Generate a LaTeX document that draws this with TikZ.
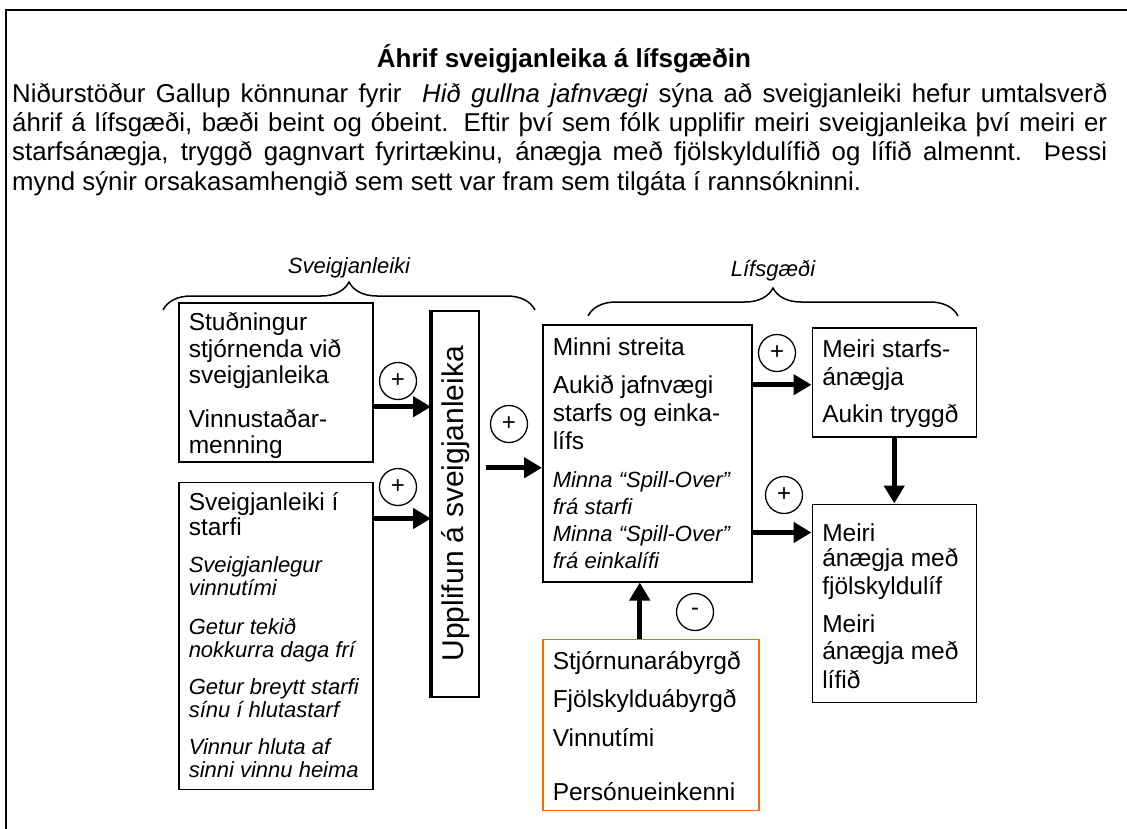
\documentclass[tikz,border=0pt]{standalone}
\usepackage{fontspec}
\setmainfont{Liberation Sans}
\usetikzlibrary{positioning,arrows.meta,decorations.pathreplacing}
\definecolor{boxorange}{RGB}{255,102,0}
\newcommand{\boxtext}[4][10pt]{\parbox[c][#3][t]{#2}{\vspace*{#1}\leftskip=10pt\rightskip=0pt plus 1fil\relax #4}}
\newcommand{\fineprint}[1]{{\fontsize{22}{26.5}\selectfont\itshape #1}}

\begin{document}
\begin{tikzpicture}[x=1pt, y=-1pt,
  factor/.style={draw, line width=1.5pt, inner sep=0pt, anchor=north west, font=\fontsize{24.5}{26.5}\selectfont},
  sign/.style={circle, draw, line width=1.3pt, minimum size=37pt, inner sep=0pt, font=\fontsize{24}{24}\selectfont},
  flow/.style={line width=5pt, -{Triangle[length=18pt, width=20pt]}},
  brace/.style={decorate, decoration={brace, amplitude=28pt}, line width=1.5pt},
  bracetitle/.style={anchor=base, font=\fontsize{22}{22}\selectfont\itshape}]

\useasboundingbox (0,0) rectangle (1127,829);
\draw[line width=2pt] (6,829) -- (6,10) -- (1127,10);

% HEADING

\node[anchor=base, font=\fontsize{26}{30}\selectfont\bfseries] (title) at (564,68) {Áhrif sveigjanleika á lífsgæðin};

\node[anchor=north west, text width=1095pt, inner sep=0pt, align=justify, font=\fontsize{25.8}{29.3}\selectfont] (intro) at (12,83)
{\hyphenpenalty=10000 Niðurstöður Gallup könnunar fyrir\ \ \textit{Hið gullna jafnvægi} sýna að sveigjanleiki hefur umtalsverð\linebreak
áhrif á lífsgæði, bæði beint og óbeint. Eftir því sem fólk upplifir meiri sveigjanleika því meiri er\linebreak
starfsánægja, tryggð gagnvart fyrirtækinu, ánægja með fjölskyldulífið og lífið almennt. Þessi\linebreak
mynd sýnir orsakasamhengið sem sett var fram sem tilgáta í rannsókninni.};

% BOXES

\node[factor] (support) at (178,302)
{\boxtext{194pt}{159pt}{Stuðningur\\stjórnenda við\\sveigjanleika\\[17pt]Vinnustaðar-\\menning}};

\node[factor, below=19pt of support.south west, anchor=north west] (flexwork)
{\boxtext{194pt}{307pt}{Sveigjanleiki í\\[-1.5pt]starfi\\[10.5pt]%
\fineprint{Sveigjanlegur\\[-3.5pt]vinnutími}\\[12.5pt]%
\fineprint{Getur tekið\\[-3.5pt]nokkurra daga frí}\\[10.5pt]%
\fineprint{Getur breytt starfi\\[-3.5pt]sínu í hlutastarf}\\[10.5pt]%
\fineprint{Vinnur hluta af\\[-3.5pt]sinni vinnu heima}}};

\node[draw, line width=1.5pt, inner sep=0pt, anchor=north west, minimum width=47pt, minimum height=386pt] (perceived) at (431,310)
{\rotatebox{90}{\fontsize{30}{30}\selectfont Upplifun á sveigjanleika}};
\draw[line width=4pt] (perceived.north west) -- (perceived.south west);

\node[factor] (strain) at (542,324)
{\boxtext[13pt]{209pt}{257pt}{Minni streita\\[11.5pt]Aukið jafnvægi\\[1.5pt]starfs og einka-\\[1.5pt]lífs\\[11.5pt]%
\fineprint{Minna “Spill-Over”\\[0.5pt]frá starfi\\[0.5pt]Minna “Spill-Over”\\frá einkalífi}}};

\node[factor, right=59pt of strain.north east, anchor=north west, yshift=-3pt] (jobsat)
{\boxtext[12pt]{164pt}{109pt}{Meiri starfs-\\[1.5pt]ánægja\\[10.5pt]Aukin tryggð}};

\node[factor, below=66pt of jobsat.south west, anchor=north west] (lifesat)
{\boxtext[19pt]{164pt}{198pt}{Meiri\\[-1.5pt]ánægja með\\[1.5pt]fjölskyldulíf\\[11.5pt]Meiri\\[0.5pt]ánægja með\\[2.5pt]lífið}};

\node[factor, draw=boxorange, below=56pt of strain.south west, anchor=north west] (burden)
{\boxtext[12pt]{216pt}{171pt}{Stjórnunarábyrgð\\[11.5pt]Fjölskylduábyrgð\\[12.5pt]Vinnutími\\[27.5pt]Persónueinkenni}};

% BRACES

\draw[brace] (163,310) -- (535,310);
\node[bracetitle] (flextitle) at (349,273) {Sveigjanleiki};
\draw[brace] (588,316) -- (958,316);
\node[bracetitle] (lifetitle) at (773,276) {Lífsgæði};

% ARROWS

\coordinate (supportout) at ([yshift=-24.5pt]support.east);
\draw[flow] (supportout) -- (supportout -| perceived.west);

\coordinate (flexout) at ([yshift=-37pt]flexwork.north east);
\draw[flow] (flexout) -- (flexout -| perceived.west);

\coordinate (strainin) at ([yshift=-14.5pt]strain.west);
\coordinate (perceivedout) at (perceived.east |- strainin);
\draw[flow] ([xshift=6pt]perceivedout) -- (strainin);

\coordinate (jobsatin) at ([yshift=-2.5pt]jobsat.west);
\draw[flow] (jobsatin -| strain.east) -- (jobsatin);

\coordinate (lifesatin) at ([yshift=-29pt]lifesat.north west);
\draw[flow] (lifesatin -| strain.east) -- (lifesatin);

\draw[flow] (jobsat.south) -- (jobsat.south |- lifesat.north);

\coordinate (burdenout) at ([xshift=-11pt]burden.north);
\draw[flow] (burdenout) -- (burdenout |- strain.south);

% SIGNS

\node[sign] (plussupport) at (398,381) {+};
\node[sign] (plusflex) at (398,487) {+};
\node[sign] (plusperceived) at (509,424) {+};
\node[sign] (plusjobsat) at (777,353) {+};
\node[sign] (pluslifesat) at (784,495) {+};
\node[sign] (minusburden) at (695,612) {-};

\end{tikzpicture}
\end{document}
